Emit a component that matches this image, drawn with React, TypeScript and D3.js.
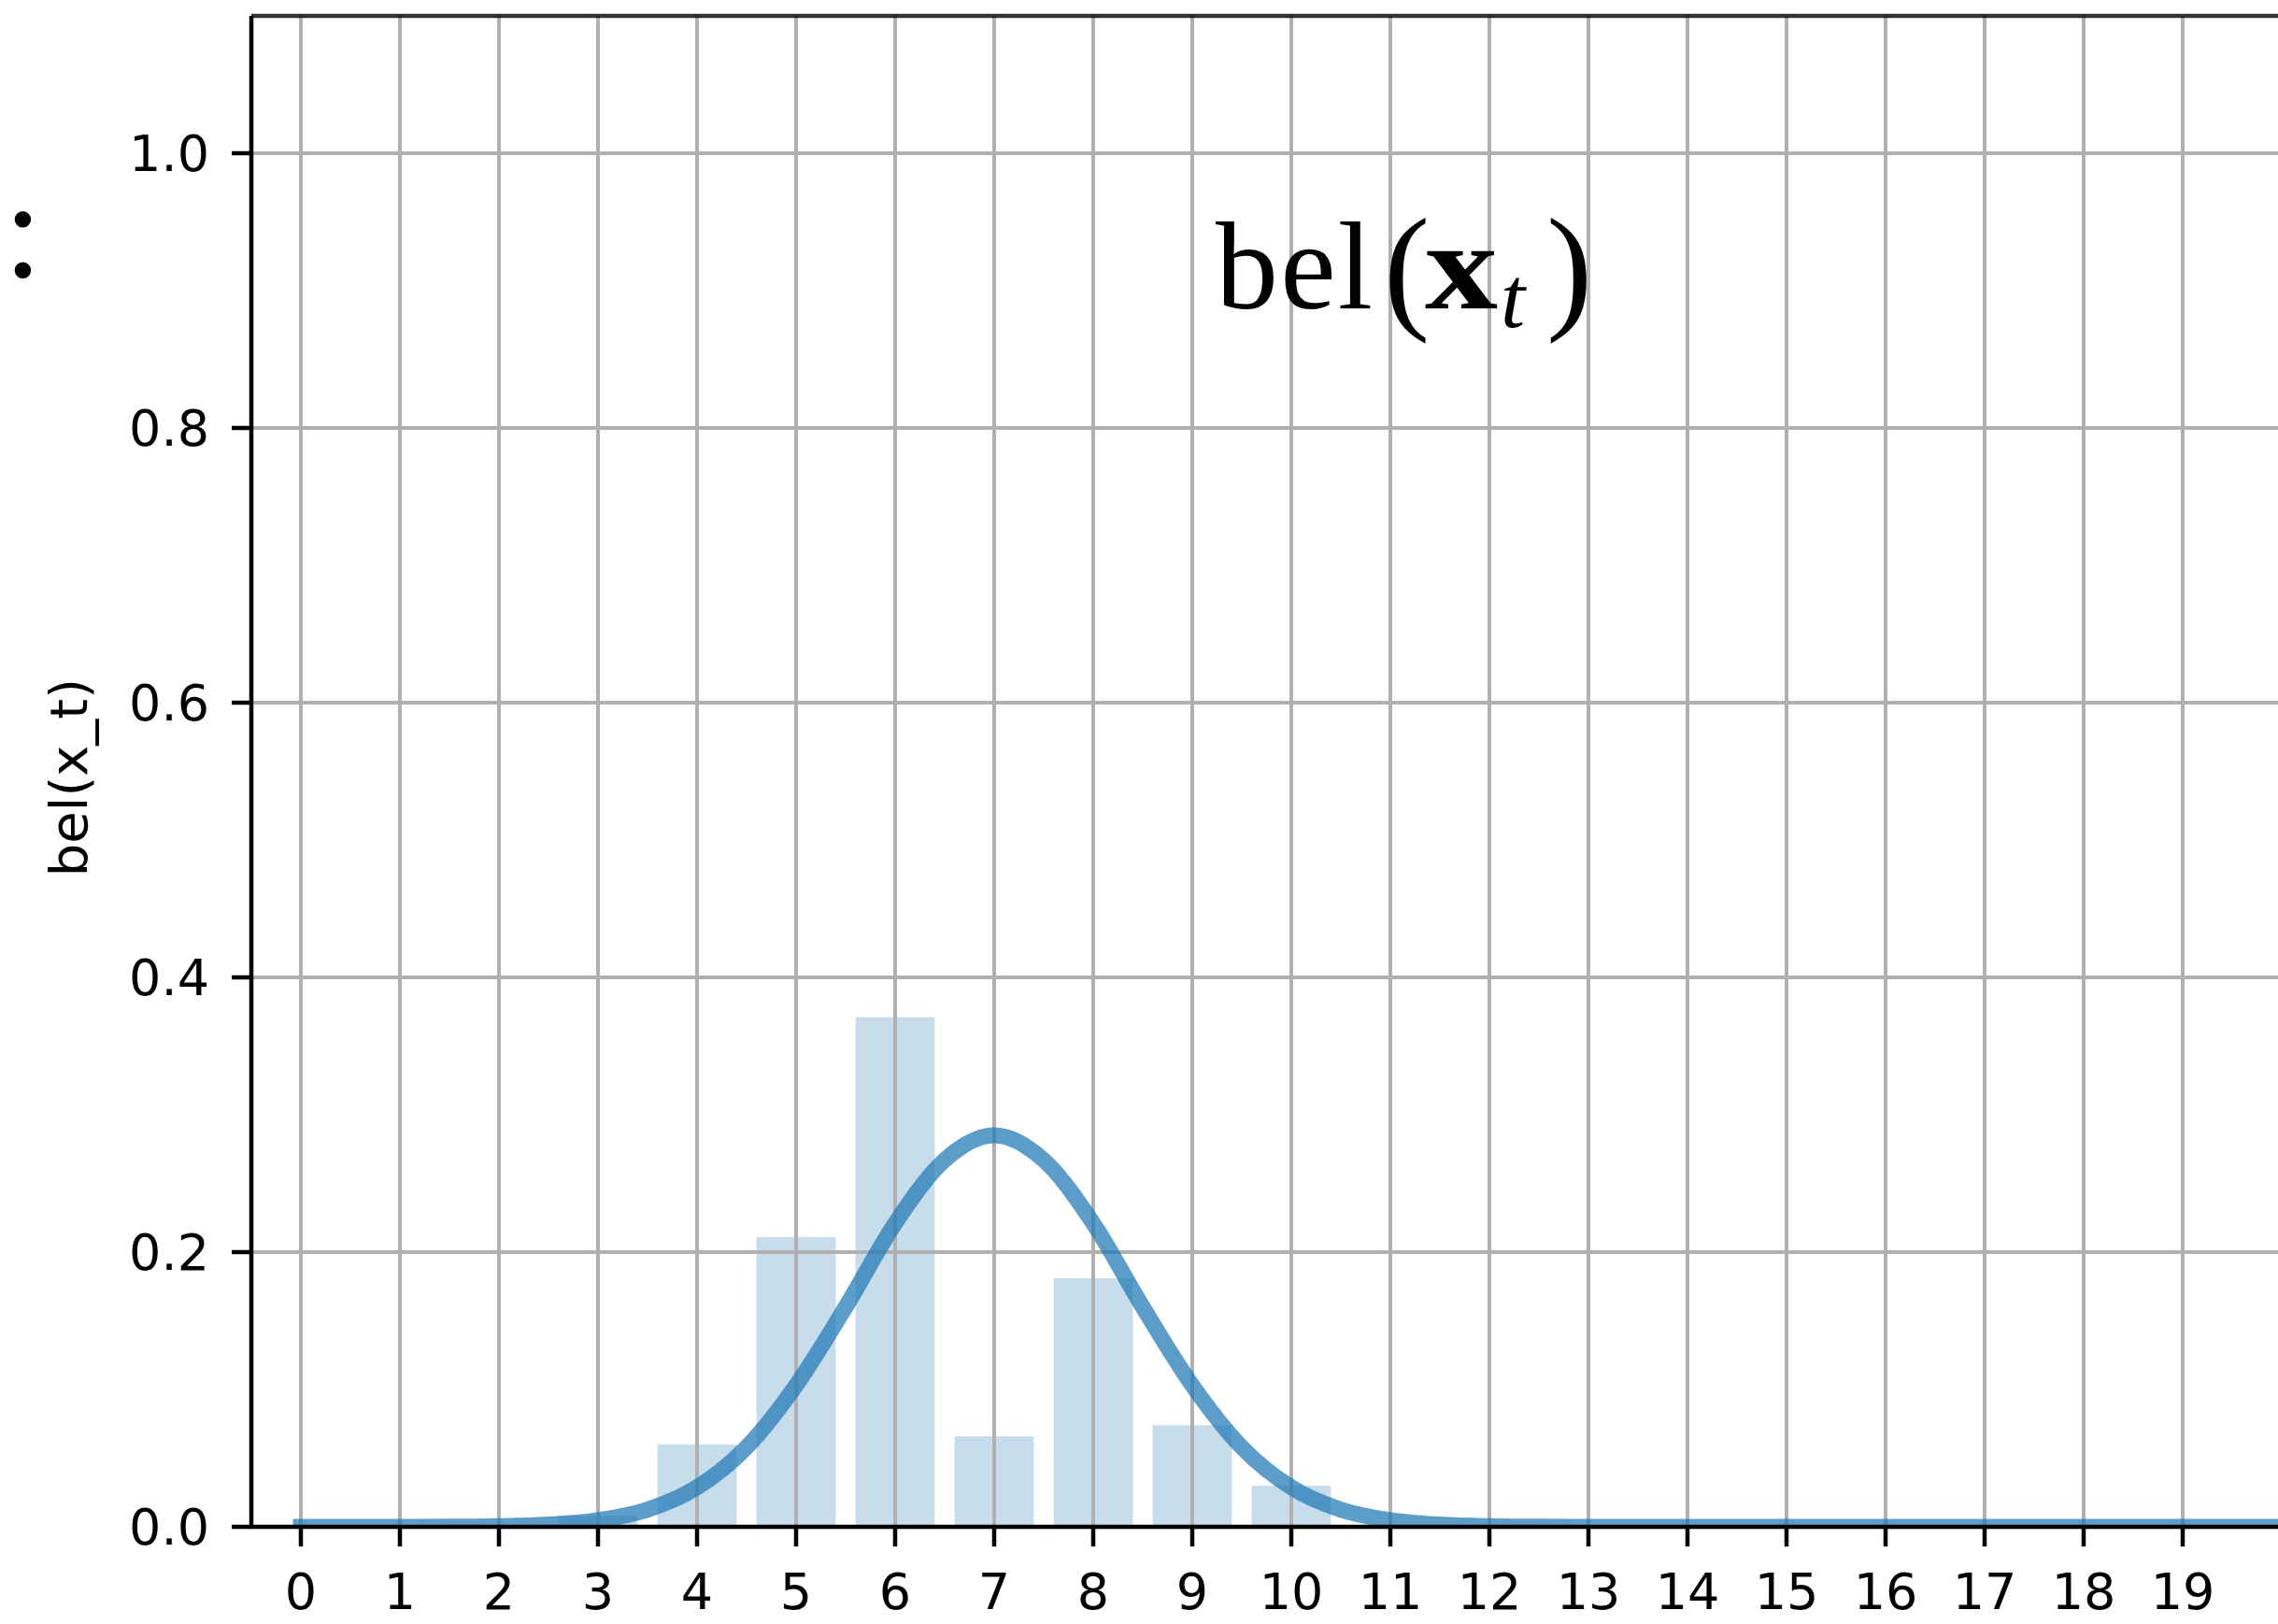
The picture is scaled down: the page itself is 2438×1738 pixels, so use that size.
import React from "react";
import * as d3 from "d3";

// Discrete belief over grid cells 0..19
const cells = [0, 1, 2, 3, 4, 5, 6, 7, 8, 9, 10, 11, 12, 13, 14, 15, 16, 17, 18, 19];
const belief = [0, 0, 0, 0.008, 0.06, 0.211, 0.371, 0.066, 0.181, 0.074, 0.03, 0, 0, 0, 0, 0, 0, 0, 0, 0];

// Smooth Gaussian fit, sampled at half-cell positions
const fitX = [
  0, 0.5, 1, 1.5, 2, 2.5, 3, 3.5, 4, 4.5, 5, 5.5, 6, 6.5, 7, 7.5, 8, 8.5, 9, 9.5, 10,
  10.5, 11, 11.5, 12, 12.5, 13, 14, 15, 16, 17, 18, 19, 20, 21,
];
const fitY = [
  0, 0, 0, 0.0001, 0.0005, 0.0017, 0.0048, 0.0125, 0.0287, 0.0579, 0.103, 0.16, 0.221,
  0.267, 0.285, 0.267, 0.221, 0.16, 0.103, 0.0579, 0.0287, 0.0125, 0.0048, 0.0017, 0.0005,
  0.0001, 0, 0, 0, 0, 0, 0, 0, 0, 0,
];

const yTicks = [0, 0.2, 0.4, 0.6, 0.8, 1.0];
const yLabel = "bel(x_t)";

const W = 2438;
const H = 1738;
const left = 269;
const bottom = 1634;
const top = 17;
const right = 2495;

const BLUE = "#1f77b4";
const GRID = "#b0b0b0";
const tickFont = "'DejaVu Sans', sans-serif";
const serif = "'Liberation Serif', 'Times New Roman', serif";

export default function App() {
  const x = d3.scaleLinear().domain([-0.5, 20.5]).range([left, right]);
  const y = d3.scaleLinear().domain([0, 1.1]).range([bottom, top]);
  const fmt = d3.format(".1f");

  const pts: [number, number][] = fitX.map((v, i) => [v, fitY[i]]);
  const line = d3
    .line<[number, number]>()
    .x((d) => x(d[0]))
    .y((d) => y(d[1]))
    .curve(d3.curveMonotoneX);

  const bw = 0.8;

  return (
    <svg
      width={W}
      height={H}
      style={{ position: "absolute", left: 0, top: 0, display: "block", background: "#fff" }}
    >
      <defs>
        <clipPath id="plot">
          <rect x={left} y={top} width={right - left} height={bottom - top} />
        </clipPath>
      </defs>
      <rect x={0} y={0} width={W} height={H} fill="#fff" />

      {/* fragment of neighbouring text */}
      <text x={4} y={296} fontFamily={serif} fontSize={148} fill="#000">
        :
      </text>

      <g clipPath="url(#plot)">
        {/* bars */}
        {cells.map((c, i) => (
          <rect
            key={"b" + c}
            x={x(c - bw / 2)}
            width={x(c + bw / 2) - x(c - bw / 2)}
            y={y(belief[i])}
            height={y(0) - y(belief[i])}
            fill={BLUE}
            fillOpacity={0.25}
          />
        ))}
        {/* grid */}
        {cells.map((c) => (
          <line key={"gx" + c} x1={x(c)} x2={x(c)} y1={top} y2={bottom} stroke={GRID} strokeWidth={4} />
        ))}
        {yTicks.map((t) => (
          <line key={"gy" + t} x1={left} x2={right} y1={y(t)} y2={y(t)} stroke={GRID} strokeWidth={4} />
        ))}
        {/* fitted curve */}
        <path
          d={line(pts) || ""}
          fill="none"
          stroke={BLUE}
          strokeOpacity={0.72}
          strokeWidth={17}
          strokeLinecap="square"
          strokeLinejoin="round"
        />
      </g>

      {/* spines */}
      <line x1={left} x2={right} y1={top} y2={top} stroke="#000" strokeWidth={4.5} strokeOpacity={0.8} />
      <line x1={left} x2={left} y1={top} y2={bottom} stroke="#000" strokeWidth={4.5} />
      <line x1={left - 2} x2={right} y1={bottom} y2={bottom} stroke="#000" strokeWidth={4.5} />

      {/* y ticks */}
      {yTicks.map((t) => (
        <g key={"yt" + t}>
          <line x1={left - 21} x2={left} y1={y(t)} y2={y(t)} stroke="#000" strokeWidth={4.5} />
          <text
            x={224}
            y={y(t)}
            dy="0.36em"
            textAnchor="end"
            fontFamily={tickFont}
            fontSize={54}
            fill="#000"
          >
            {fmt(t)}
          </text>
        </g>
      ))}

      {/* x ticks */}
      {cells.map((c) => (
        <g key={"xt" + c}>
          <line x1={x(c)} x2={x(c)} y1={bottom} y2={bottom + 21} stroke="#000" strokeWidth={4.5} />
          <text x={x(c)} y={1722} textAnchor="middle" fontFamily={tickFont} fontSize={54} fill="#000">
            {c}
          </text>
        </g>
      ))}

      {/* y axis label */}
      <text
        transform="translate(93,832) rotate(-90)"
        textAnchor="middle"
        fontFamily={tickFont}
        fontSize={56}
        fill="#000"
      >
        {yLabel}
      </text>

      {/* in-plot annotation: bel(x_t) */}
      <g fontFamily={serif} fill="#000">
        <text x={1301} y={330} fontSize={134} textLength={168} lengthAdjust="spacing">
          bel
        </text>
        <text x={1481} y={336} fontSize={148}>
          (
        </text>
        <text x={1525} y={330} fontSize={134} fontWeight="bold" textLength={78} lengthAdjust="spacingAndGlyphs">
          x
        </text>
        <text x={1606} y={350} fontSize={94} fontStyle="italic">
          t
        </text>
        <text x={1655} y={336} fontSize={148}>
          )
        </text>
      </g>
    </svg>
  );
}
